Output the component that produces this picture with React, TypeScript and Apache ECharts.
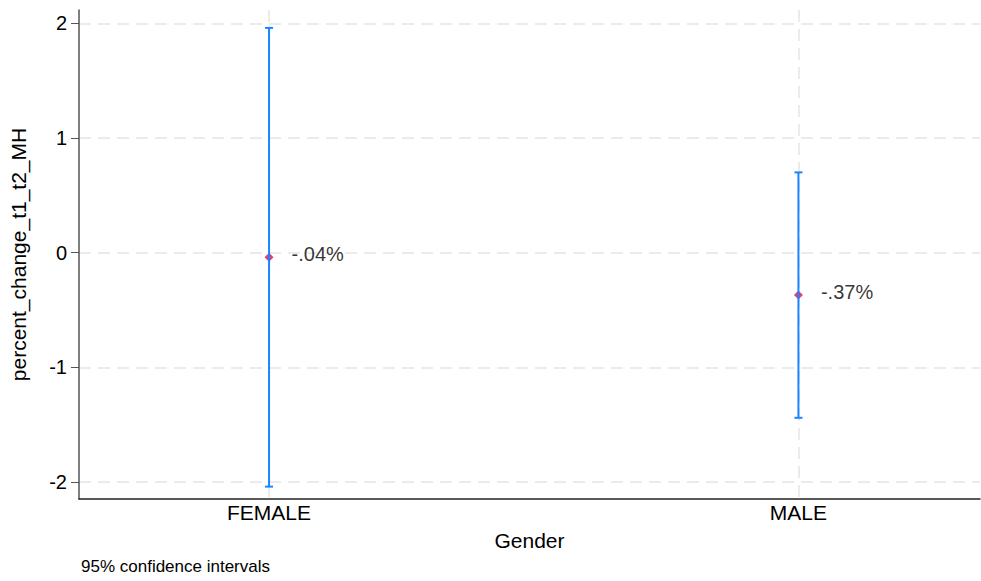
import React, { useEffect, useRef } from "react";
import * as echarts from "echarts";

const categories = ["FEMALE", "MALE"];
const means = [-0.04, -0.37];
const lowerCI = [-2.04, -1.44];
const upperCI = [1.96, 0.7];
const pointLabels = ["-.04%", "-.37%"];
const yTicks = [-2, -1, 0, 1, 2];
const xPositions = [1, 2];

const FONT = "'Liberation Sans', Arial, sans-serif";
const BLUE = "#1a85ff";
const RED = "#d41159";
const GRID_COLOR = "#ebebeb";

export default function App() {
  const ref = useRef<HTMLDivElement>(null);
  useEffect(() => {
    if (!ref.current) return;
    const chart = echarts.init(ref.current, undefined, { renderer: "svg" });
    const barData = categories.map((_, i) => [xPositions[i], lowerCI[i], upperCI[i]]);
    const pointData = categories.map((_, i) => ({ value: [xPositions[i], means[i]], label: pointLabels[i] }));
    chart.setOption({
      animation: false,
      backgroundColor: "#ffffff",
      textStyle: { fontFamily: FONT },
      grid: { left: 78, right: 1, top: 10, bottom: 82, containLabel: false },
      xAxis: {
        type: "value",
        min: 0.641,
        max: 2.343,
        name: "Gender",
        nameLocation: "middle",
        nameGap: 31,
        nameTextStyle: { fontSize: 21, color: "#000", fontFamily: FONT },
        axisLine: { show: true, onZero: false, lineStyle: { color: "#222", width: 1.5 } },
        axisTick: { show: false, customValues: xPositions },
        axisLabel: {
          customValues: xPositions,
          fontSize: 21,
          color: "#000",
          margin: 3,
          fontFamily: FONT,
          formatter: (v: number) => {
            const idx = xPositions.indexOf(Math.round(v));
            return idx >= 0 ? categories[idx] : "";
          },
        },
        splitLine: { show: true, lineStyle: { color: GRID_COLOR, width: 2, type: [12, 7] } },
      },
      yAxis: {
        type: "value",
        min: -2.148,
        max: 2.116,
        name: "percent_change_t1_t2_MH",
        nameLocation: "middle",
        nameRotate: 90,
        nameGap: 50,
        nameTextStyle: { fontSize: 21, color: "#000", fontFamily: FONT },
        axisLine: { show: true, lineStyle: { color: "#555", width: 1.5 } },
        axisTick: { show: true, length: 8, customValues: yTicks, lineStyle: { color: "#555", width: 1 } },
        axisLabel: {
          customValues: yTicks,
          fontSize: 20,
          color: "#000",
          margin: 12,
          fontFamily: FONT,
          formatter: (v: number) => String(Math.round(v)),
        },
        splitLine: { show: true, lineStyle: { color: GRID_COLOR, width: 2, type: [12, 7] } },
      },
      graphic: [
        {
          type: "text",
          left: 81,
          top: 558,
          style: { text: "95% confidence intervals", fontSize: 17, fill: "#000", fontFamily: FONT },
        },
      ],
      series: [
        {
          type: "scatter",
          data: pointData,
          symbol: "diamond",
          symbolSize: 9,
          itemStyle: { color: RED },
          z: 2,
          label: {
            show: true,
            position: "right",
            distance: 18,
            offset: [0, -3],
            fontSize: 20,
            color: "#000",
            fontFamily: FONT,
            formatter: (p: any) => p.data.label,
          },
        },
        {
          type: "custom",
          z: 3,
          data: barData,
          encode: { x: 0, y: [1, 2] },
          renderItem: (params: any, api: any) => {
            const x = api.value(0);
            const lo = api.coord([x, api.value(1)]);
            const hi = api.coord([x, api.value(2)]);
            const capHalf = 4;
            const style = { stroke: BLUE, lineWidth: 2 };
            return {
              type: "group",
              children: [
                { type: "line", shape: { x1: lo[0], y1: lo[1], x2: hi[0], y2: hi[1] }, style },
                { type: "line", shape: { x1: lo[0] - capHalf, y1: lo[1], x2: lo[0] + capHalf, y2: lo[1] }, style },
                { type: "line", shape: { x1: hi[0] - capHalf, y1: hi[1], x2: hi[0] + capHalf, y2: hi[1] }, style },
              ],
            };
          },
        },
      ],
    });
    return () => chart.dispose();
  }, []);
  return <div ref={ref} style={{ width: 981, height: 581, position: "absolute", left: 0, top: 0 }} />;
}
